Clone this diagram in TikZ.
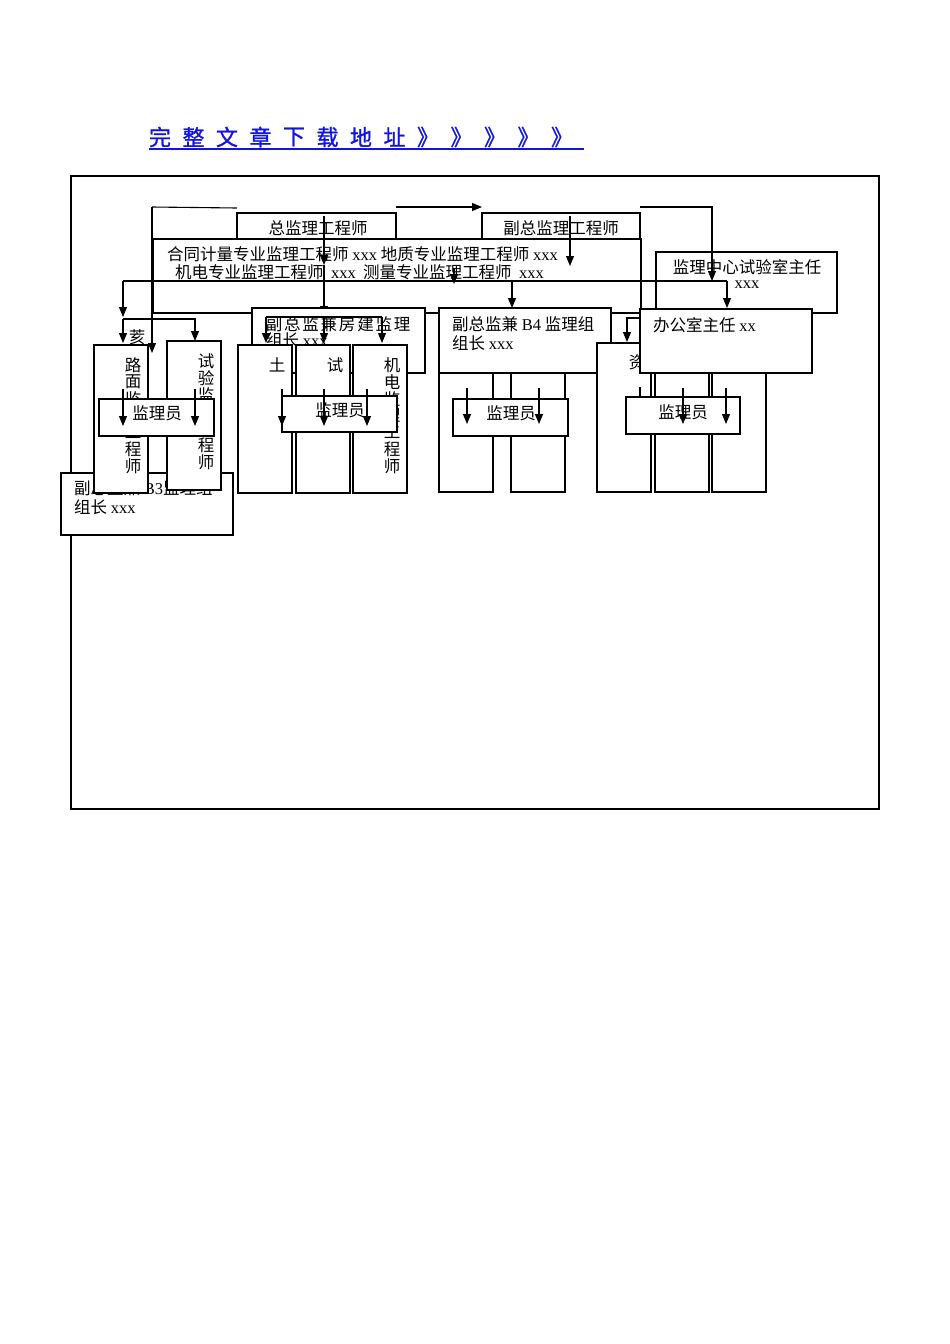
\documentclass[tikz,border=0pt]{standalone}
\usepackage{fontspec}
\setmainfont{Noto Sans CJK SC}
\newfontfamily\lat{Liberation Serif}
\newfontfamily\ttlf{Noto Sans CJK SC}[FakeBold=1.2]
\usetikzlibrary{arrows.meta}
\definecolor{ttlblue}{RGB}{20,20,225}
\newcommand\fs{\fontsize{16.5}{18}\selectfont}
\newcommand\mybox[5]{\node[bx, minimum width={(#4-#2)*1pt}, minimum height={(#5-#3)*1pt}] (#1) at (#2,#3) {};}
\newcommand\vtext[4]{\foreach \c [count=\i from 0] in {#4} {\node[tc] (#1\i) at (#2,#3+16.8*\i) {\c};}}
\begin{document}
\begin{tikzpicture}[x=1pt,y=-1pt,
  bx/.style={draw, fill=white, line width=1.1pt, inner sep=0pt, outer sep=0pt, anchor=north west},
  ar/.style={-{Triangle[length=10pt,width=8pt]}, line width=1.1pt},
  ln/.style={line width=1.1pt},
  tx/.style={inner sep=0pt, anchor=west, font=\fs},
  tc/.style={inner sep=0pt, font=\fs},
  ttl/.style={inner sep=0pt, font=\ttlf\fontsize{22}{24}\selectfont, text=ttlblue}]
\useasboundingbox (0,0) rectangle (950,1344);
\fill[white] (0,0) rectangle (950,1344);
% title
\foreach \c [count=\i from 0] in {完,整,文,章,下,载,地,址,》,》,》,》,》} {\node[ttl] (t\i) at (160+33.5*\i,137) {\c};}
\coordinate (u1) at (149,149); \coordinate (u2) at (584,149);
\draw[ttlblue, line width=1.3pt] (u1) -- (u2);
% frame
\node[bx, line width=2.5pt, minimum width=808pt, minimum height=633pt] (frame) at (71,176) {};
% top boxes
\mybox{zong}{237}{213}{396}{245}
\node[tc] (zongt) at (318,228) {总监理工程师};
\mybox{fuzong}{482}{213}{640}{245}
\node[tc] (fuzongt) at (561,228) {副总监理工程师};
\mybox{big}{153}{239}{641}{313}
\node[tx] (bigt1) at (167,254) {合同计量专业监理工程师 {\lat xxx} 地质专业监理工程师 {\lat xxx}};
\node[tx] (bigt2) at (175,272) {机电专业监理工程师 \ {\lat xxx} \ 测量专业监理工程师 \ {\lat xxx}};
\mybox{lab}{656}{252}{837}{313}
\node[tc] (labt1) at (747,267) {监理中心试验室主任};
\node[tc, font=\fs\lat] (labt2) at (747,285) {xxx};
% top connectors
\coordinate (a1) at (152,207); \coordinate (a2) at (237,208); \coordinate (a3) at (152,353);
\draw[ln] (a2) -- (a1); \draw[ar] (a1) -- (a3);
\coordinate (b1) at (396,207); \coordinate (b2) at (482,207);
\draw[ar] (b1) -- (b2);
\coordinate (c1) at (640,207); \coordinate (c2) at (712,207); \coordinate (c3) at (712,281);
\draw[ar] (c1) -- (c2) -- (c3);
\coordinate (d1) at (324,216); \coordinate (d2) at (324,265); \coordinate (d3) at (324,316);
\draw[ar] (d1) -- (d2); \draw[ar] (d2) -- (d3);
\coordinate (e1) at (570,216); \coordinate (e2) at (570,266);
\draw[ar] (e1) -- (e2);
\coordinate (h1) at (123,281); \coordinate (h2) at (727,281);
\draw[ln] (h1) -- (h2);
\coordinate (f1) at (454,268); \coordinate (f2) at (454,284);
\draw[ar] (f1) -- (f2);
\coordinate (g1) at (123,317); \coordinate (g2) at (123,319); \coordinate (g3) at (123,343);
\coordinate (g4) at (195,319); \coordinate (g5) at (195,341);
\draw[ar] (h1) -- (g1); \draw[ar] (g2) -- (g3); \draw[ar] (g2) -- (g4) -- (g5);
\coordinate (k1) at (512,281); \coordinate (k2) at (512,308);
\draw[ar] (k1) -- (k2);
\coordinate (m1) at (727,308);
\draw[ar] (h2) -- (m1);
% left group
\mybox{b3}{61}{473}{233}{535}
\node[tx] (b3t1) at (74,488) {副总监兼 {\lat B3}监理组};
\node[tx] (b3t2) at (74,507) {组长 {\lat xxx}};
\node[tc] (gai) at (137,337) {荄};
\mybox{lumian}{94}{345}{148}{493}
\vtext{lm}{133}{365}{路,面,监,理,工,程,师}
\mybox{shiyan}{167}{341}{221}{490}
\vtext{sy}{206}{361}{试,验,监,理,工,程,师}
\mybox{jl1}{99}{399}{214}{436}
\node[tc] (jl1t) at (157,413) {监理员};
\coordinate (n1) at (123,389); \coordinate (n2) at (123,426);
\coordinate (n3) at (195,389); \coordinate (n4) at (195,426);
\draw[ar] (n1) -- (n2); \draw[ar] (n3) -- (n4);
% middle group
\mybox{fj}{252}{308}{425}{373}
\foreach \c [count=\i from 0] in {副,总,监,兼,房,建,监,理} {\node[tc] (fj\i) at (274+18.3*\i,324) {\c};}
\node[tx] (fjt2) at (266,340) {组长 {\lat xxx}};
\coordinate (q1) at (266,317); \coordinate (q2) at (382,317);
\coordinate (q3) at (266,343); \coordinate (q4) at (324,343); \coordinate (q5) at (382,343);
\coordinate (q6) at (324,317);
\draw[ln] (q1) -- (q2);
\draw[ar] (q1) -- (q3); \draw[ar] (q6) -- (q4); \draw[ar] (q2) -- (q5);
\mybox{tu}{238}{345}{292}{493}
\node[tc] (tut) at (277,365) {土};
\mybox{shi}{296}{345}{350}{493}
\node[tc] (shit) at (335,365) {试};
\mybox{jd}{353}{345}{407}{493}
\vtext{jdt}{392}{365}{机,电,监,理,工,程,师}
\mybox{jl2}{282}{396}{397}{432}
\node[tc] (jl2t) at (340,410) {监理员};
\coordinate (r1) at (282,389); \coordinate (r2) at (282,426);
\coordinate (r3) at (324,389); \coordinate (r4) at (324,426);
\coordinate (r5) at (367,389); \coordinate (r6) at (367,426);
\draw[ar] (r1) -- (r2); \draw[ar] (r3) -- (r4); \draw[ar] (r5) -- (r6);
% B4 group
\mybox{b4c1}{439}{340}{493}{492}
\mybox{b4c2}{511}{340}{565}{492}
\mybox{b4}{439}{308}{611}{373}
\node[tx] (b4t1) at (452,324) {副总监兼 {\lat B4} 监理组};
\node[tx] (b4t2) at (452,343) {组长 {\lat xxx}};
\mybox{jl3}{453}{399}{568}{436}
\node[tc] (jl3t) at (511,413) {监理员};
\coordinate (s1) at (467,388); \coordinate (s2) at (467,424);
\coordinate (s3) at (539,388); \coordinate (s4) at (539,424);
\draw[ar] (s1) -- (s2); \draw[ar] (s3) -- (s4);
% office group
\mybox{zi}{597}{343}{651}{492}
\node[tc] (zit) at (637,362) {资};
\mybox{oc2}{655}{340}{709}{492}
\mybox{oc3}{712}{340}{766}{492}
\mybox{office}{640}{309}{812}{373}
\node[tx] (officet) at (653,325) {办公室主任 {\lat xx}};
\coordinate (w1) at (640,318); \coordinate (w2) at (627,318); \coordinate (w3) at (627,342);
\draw[ar] (w1) -- (w2) -- (w3);
\coordinate (v1) at (640,387); \coordinate (v2) at (640,398);
\draw[ln] (v1) -- (v2);
\mybox{jl4}{626}{397}{740}{434}
\node[tc] (jl4t) at (683,412) {监理员};
\coordinate (x1) at (683,388); \coordinate (x2) at (683,424);
\coordinate (x3) at (726,388); \coordinate (x4) at (726,424);
\draw[ar] (x1) -- (x2); \draw[ar] (x3) -- (x4);
\end{tikzpicture}
\end{document}
